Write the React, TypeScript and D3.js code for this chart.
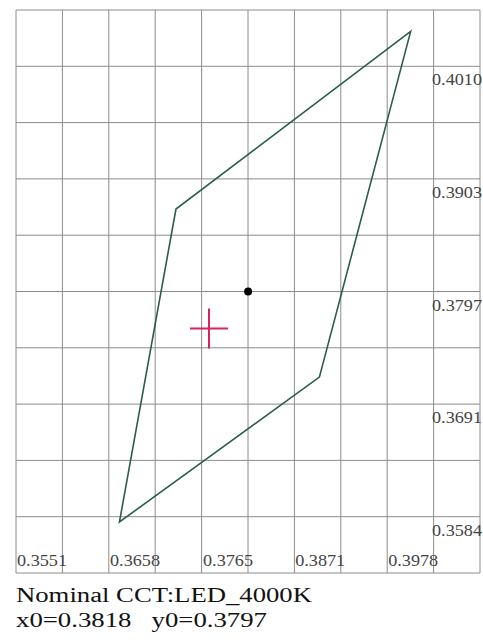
import React from "react";
import * as d3 from "d3";

const xTickLabels = ["0.3551", "0.3658", "0.3765", "0.3871", "0.3978"];
const yTickLabels = ["0.4010", "0.3903", "0.3797", "0.3691", "0.3584"];
const quadX = [0.4005, 0.3735, 0.367, 0.39];
const quadY = [0.4043, 0.3875, 0.3579, 0.3716];
const centerPoint = [0.3818, 0.3797];
const measuredPoint = [0.3773, 0.3762];
const titleLines = ["Nominal CCT:LED_4000K", "x0=0.3818   y0=0.3797"];

const W = 483;
const H = 640;
const left = 16, right = 480, top = 10, bottom = 573;
const xStep = 0.0053375;
const yStep = 0.005325;
const xMin = 0.3551;
const yMax = 0.4010 + yStep;

export default function App() {
  const x = d3.scaleLinear().domain([xMin, xMin + 10 * xStep]).range([left, right]);
  const y = d3.scaleLinear().domain([yMax, yMax - 10 * yStep]).range([top, bottom]);
  const gridX = d3.range(11).map((i) => xMin + i * xStep);
  const gridY = d3.range(11).map((i) => yMax - i * yStep);
  const pts: [number, number][] = quadX.map((v, i) => [x(v), y(quadY[i])]);
  const line = d3.line().curve(d3.curveLinearClosed);
  const gridColor = "#8c8c8c";
  const font = "'Liberation Serif', 'Times New Roman', serif";
  return (
    <div style={{ position: "fixed", left: 0, top: 0 }}>
      <svg width={W} height={H} style={{ display: "block", background: "#fff" }}>
        <rect x={0} y={0} width={W} height={H} fill="#fff" />
        {gridX.map((v, i) => (
          <line key={"gx" + i} x1={x(v)} x2={x(v)} y1={top} y2={bottom} stroke={gridColor} strokeWidth={1} />
        ))}
        {gridY.map((v, i) => (
          <line key={"gy" + i} x1={left} x2={right} y1={y(v)} y2={y(v)} stroke={gridColor} strokeWidth={1} />
        ))}
        {xTickLabels.map((t, i) => (
          <text key={"xt" + i} x={x(+t) + 1} y={bottom - 7} fontFamily={font} fontSize={17} fill="#444"
            textLength={50} lengthAdjust="spacingAndGlyphs">{t}</text>
        ))}
        {yTickLabels.map((t, i) => (
          <text key={"yt" + i} x={432} y={y(+t) + 19} fontFamily={font} fontSize={17} fill="#444"
            textLength={50} lengthAdjust="spacingAndGlyphs">{t}</text>
        ))}
        <path d={line(pts) || ""} fill="none" stroke="#2b5e48" strokeWidth={1.6} strokeLinejoin="miter" />
        <circle cx={x(centerPoint[0])} cy={y(centerPoint[1])} r={4} fill="#000" />
        <line x1={x(measuredPoint[0]) - 19} x2={x(measuredPoint[0]) + 19} y1={y(measuredPoint[1])} y2={y(measuredPoint[1])}
          stroke="#d8245a" strokeWidth={2} />
        <line x1={x(measuredPoint[0])} x2={x(measuredPoint[0])} y1={y(measuredPoint[1]) - 20} y2={y(measuredPoint[1]) + 20}
          stroke="#d8245a" strokeWidth={2} />
        <text x={16} y={602} fontFamily={font} fontSize={20} fill="#111" textLength={296} lengthAdjust="spacingAndGlyphs">
          {titleLines[0]}
        </text>
        <text x={16} y={627} fontFamily={font} fontSize={20} fill="#111" textLength={251} lengthAdjust="spacingAndGlyphs"
          style={{ whiteSpace: "pre" }}>
          {titleLines[1]}
        </text>
      </svg>
    </div>
  );
}
